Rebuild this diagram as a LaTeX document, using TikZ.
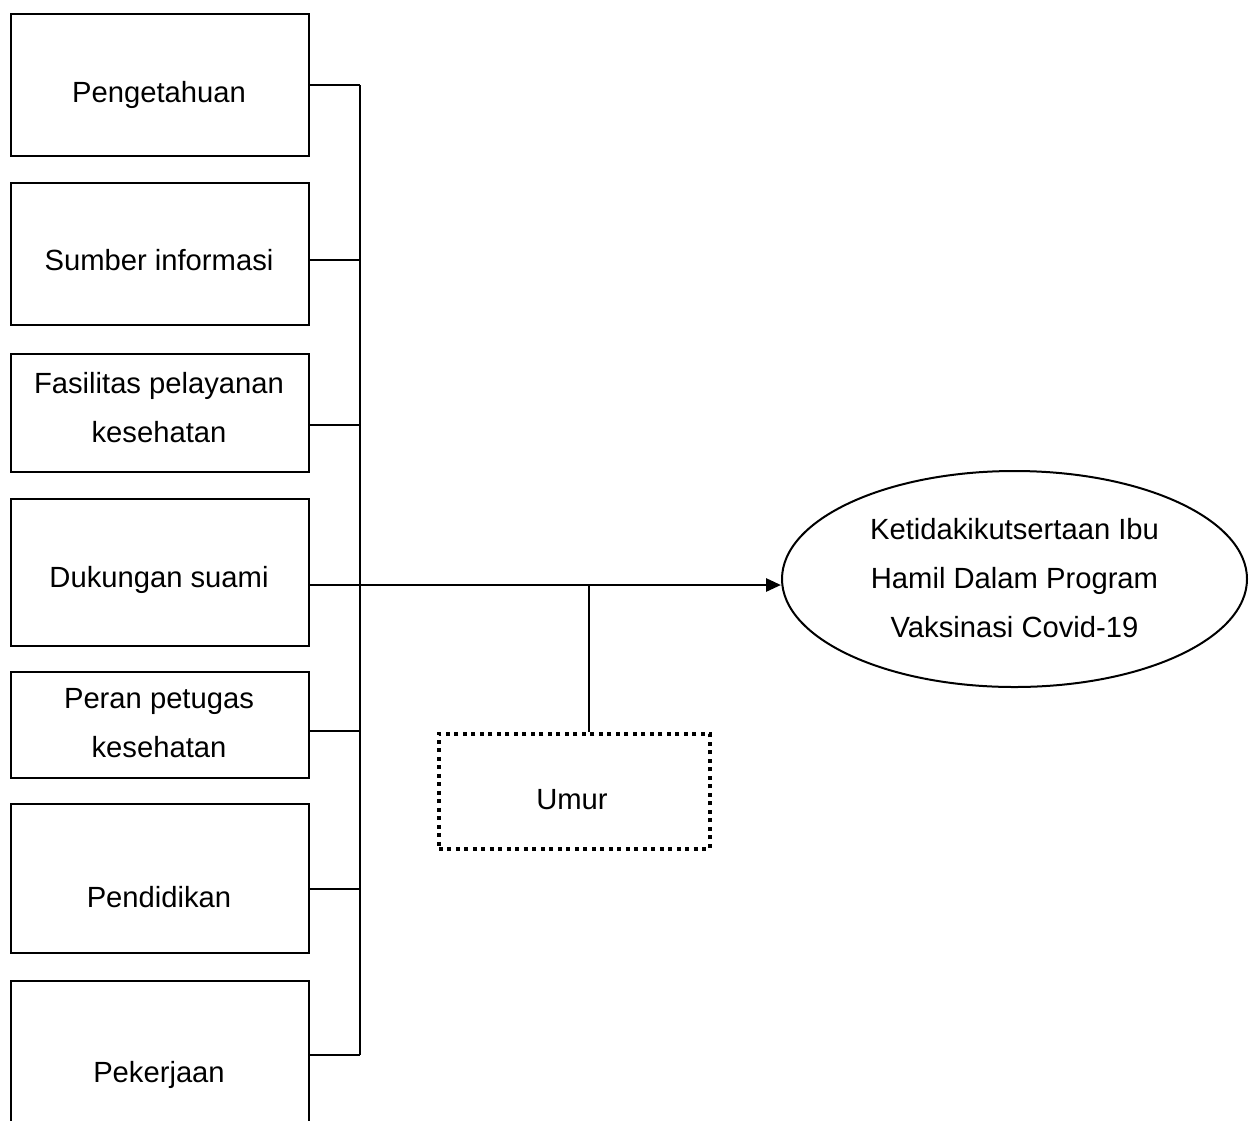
\documentclass[tikz,border=0pt]{standalone}
\usepackage{fontspec}
\setmainfont{Liberation Sans}
\usetikzlibrary{shapes.geometric,arrows.meta}
\begin{document}
\begin{tikzpicture}[x=1pt,y=1pt,
  box/.style={draw, line width=2.2pt, rectangle, inner sep=0pt, minimum width=298pt, anchor=north west},
  lbl/.style={font=\fontsize{29.2}{49}\selectfont, align=center, anchor=base, inner sep=0pt},
  wire/.style={line width=2.2pt},
  dotbox/.style={draw, line width=3.5pt, dash pattern=on 4pt off 4.5pt, rectangle, inner sep=0pt, anchor=north west},
  ell/.style={draw, ellipse, line width=2pt, inner sep=0pt},
]
\clip (0,0) rectangle (1257,-1120);
% factor boxes
\node[box, minimum height=142pt] (b1) at (10,-13) {};
\node[box, minimum height=142pt] (b2) at (10,-182) {};
\node[box, minimum height=118pt] (b3) at (10,-353) {};
\node[box, minimum height=147pt] (b4) at (10,-498) {};
\node[box, minimum height=106pt] (b5) at (10,-671) {};
\node[box, minimum height=149pt] (b6) at (10,-803) {};
\node[box, minimum height=150pt] (b7) at (10,-980) {};
% labels (base = baseline of last line)
\node[lbl] (t1) at (159,-102) {Pengetahuan};
\node[lbl] (t2) at (159,-270) {Sumber informasi};
\node[lbl] (t3) at (159,-442) {Fasilitas pelayanan\\kesehatan};
\node[lbl] (t4) at (159,-587) {Dukungan suami};
\node[lbl] (t5) at (159,-757) {Peran petugas\\kesehatan};
\node[lbl] (t6) at (159,-907) {Pendidikan};
\node[lbl] (t7) at (159,-1082) {Pekerjaan};
% outcome ellipse
\node[ell, minimum width=465pt, minimum height=216pt] (out) at (1014.5,-579) {};
\node[lbl] (tout) at (1014.5,-637) {Ketidakikutsertaan Ibu\\Hamil Dalam Program\\Vaksinasi Covid-19};
% confounder box
\node[dotbox, minimum width=271pt, minimum height=115pt] (um) at (437,-732) {};
\node[lbl] (tum) at (572,-809) {Umur};
% bus junctions
\coordinate (j1) at (360,-85);
\coordinate (j2) at (360,-260);
\coordinate (j3) at (360,-425);
\coordinate (j4) at (360,-585);
\coordinate (j5) at (360,-731);
\coordinate (j6) at (360,-889);
\coordinate (j7) at (360,-1055);
\coordinate (ju) at (589,-585);
\draw[wire] (b1.east |- j1) -- (j1);
\draw[wire] (b2.east |- j2) -- (j2);
\draw[wire] (b3.east |- j3) -- (j3);
\draw[wire] (b4.east |- j4) -- (j4);
\draw[wire] (b5.east |- j5) -- (j5);
\draw[wire] (b6.east |- j6) -- (j6);
\draw[wire] (b7.east |- j7) -- (j7);
\draw[wire] (j1) -- (j7);
\draw[line width=2.8pt, -{Triangle[length=15pt,width=13pt]}] (j4) -- (j4 -| out.west);
\draw[line width=2pt] (ju) -- (ju |- um.north);
\end{tikzpicture}
\end{document}
